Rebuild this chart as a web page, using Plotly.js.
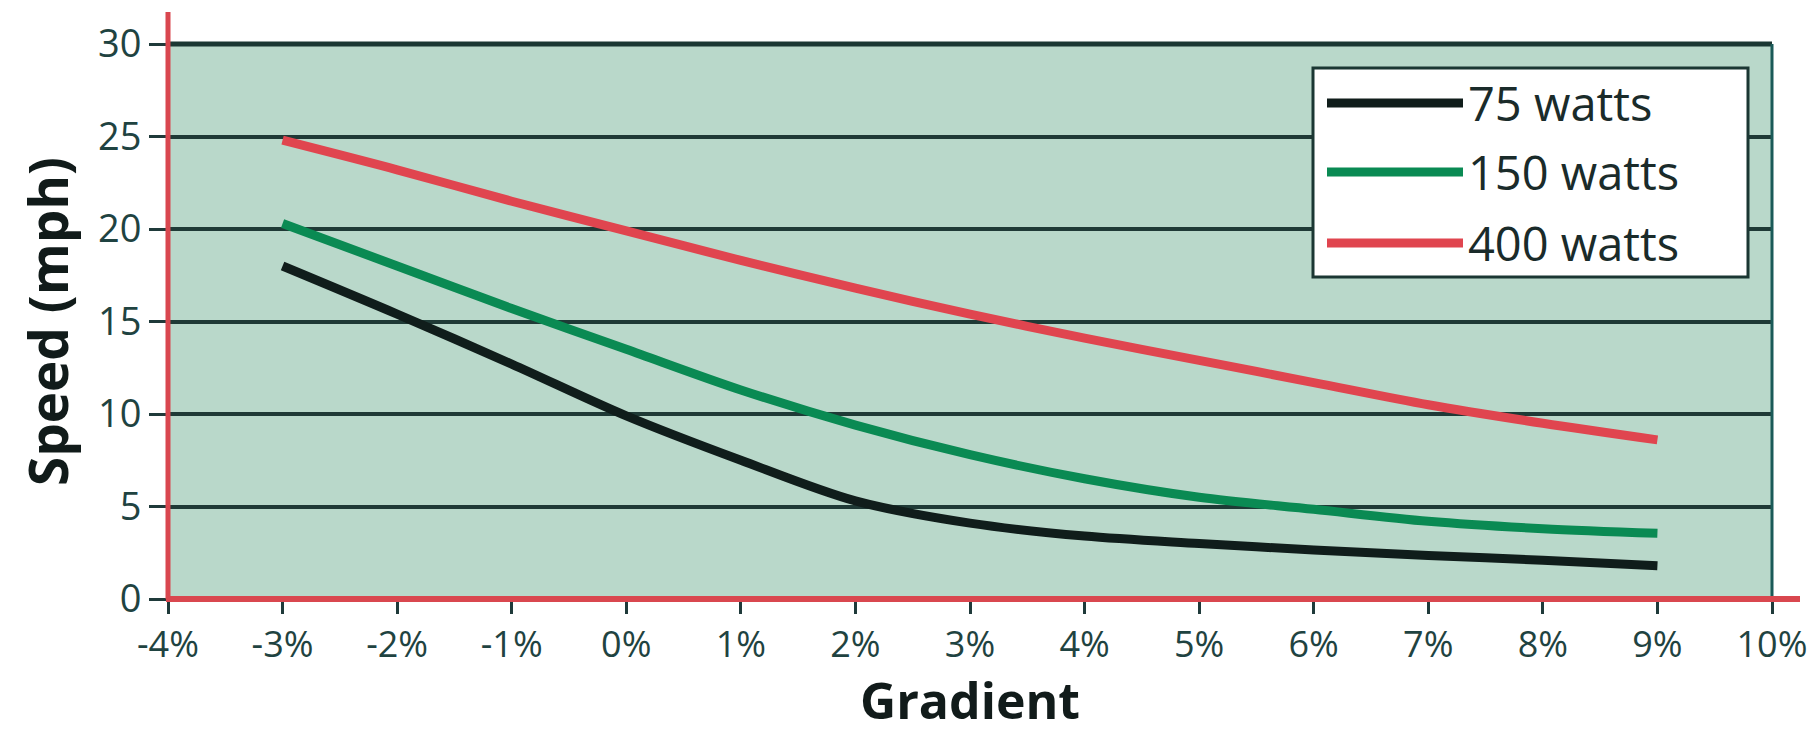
<!DOCTYPE html>
<html>
<head>
<meta charset="utf-8">
<script src="https://cdn.plot.ly/plotly-3.0.1.min.js"></script>
<style>
  html, body { margin: 0; padding: 0; background: #ffffff; }
  #chart { width: 1814px; height: 734px; }
</style>
</head>
<body>
<div id="chart"></div>
<script>
// ---- data ----
const gradient = [-3, -2, -1, 0, 1, 2, 3, 4, 5, 6, 7, 8, 9];
const speed75  = [18.0, 15.4, 12.7, 9.9, 7.5, 5.3, 4.1, 3.4, 3.0, 2.65, 2.35, 2.1, 1.8];
const speed150 = [20.3, 18.0, 15.7, 13.5, 11.3, 9.4, 7.8, 6.5, 5.5, 4.85, 4.2, 3.8, 3.55];
const speed400 = [24.8, 23.2, 21.5, 19.9, 18.3, 16.8, 15.4, 14.1, 12.9, 11.7, 10.5, 9.5, 8.6];
const seriesNames = ["75 watts", "150 watts", "400 watts"];
const xTickVals = [-4, -3, -2, -1, 0, 1, 2, 3, 4, 5, 6, 7, 8, 9, 10];
const xTickText = ["-4%", "-3%", "-2%", "-1%", "0%", "1%", "2%", "3%", "4%", "5%", "6%", "7%", "8%", "9%", "10%"];
const yTickVals = [0, 5, 10, 15, 20, 25, 30];

// ---- styling ----
const colors = ["#101d1b", "#0a8a53", "#e0454f"];
const W = 1814, H = 734;
const M = { l: 168, r: 42, t: 44, b: 135 };
const PW = W - M.l - M.r, PH = H - M.t - M.b;
const px = (x) => (x - M.l) / PW;          // pixel -> paper x
const py = (y) => (H - M.b - y) / PH;      // pixel -> paper y
const FONT = "Open Sans, Noto Sans, sans-serif";
const TEXT = "#1f4341";
const GRID = "#1f3a36";
const AXISRED = "#d9474f";

const seriesY = [speed75, speed150, speed400];
const traces = seriesY.map((ys, i) => ({
  x: gradient, y: ys, name: seriesNames[i], type: "scatter", mode: "lines",
  line: { color: colors[i], width: 9, shape: "spline", smoothing: 0.9 },
  showlegend: false, hoverinfo: "x+y+name"
}));

// custom legend (long line samples like the reference)
const legRows = [103, 172, 243];
const shapes = [
  // top border (dark, like the reference)
  { type: "line", xref: "paper", yref: "paper", x0: 0, x1: 1, y0: 1, y1: 1,
    line: { color: "#1b3733", width: 5 } },
  // right border
  { type: "line", xref: "paper", yref: "paper", x0: 1, x1: 1, y0: 0, y1: 1,
    line: { color: "#1a5a58", width: 3 } },
  // red axes extending beyond plot area
  { type: "line", xref: "paper", yref: "paper", x0: 0, x1: 0, y0: 0, y1: py(12),
    line: { color: AXISRED, width: 5 } },
  { type: "line", xref: "paper", yref: "paper", x0: px(166), x1: px(1800), y0: 0, y1: 0,
    line: { color: AXISRED, width: 6 } },
  // legend box
  { type: "rect", xref: "paper", yref: "paper", x0: px(1313), x1: px(1748), y0: py(277), y1: py(68),
    fillcolor: "#ffffff", line: { color: "#1b3733", width: 3 }, layer: "above" }
];
const annotations = [];
seriesNames.forEach((name, i) => {
  shapes.push({ type: "line", xref: "paper", yref: "paper", x0: px(1327), x1: px(1463),
    y0: py(legRows[i]), y1: py(legRows[i]), line: { color: colors[i], width: 9 }, layer: "above" });
  annotations.push({ xref: "paper", yref: "paper", x: px(1466), y: py(legRows[i]),
    xanchor: "left", yanchor: "middle", showarrow: false, text: name,
    font: { family: FONT, size: 47, color: "#1a2b2a" } });
});

const layout = {
  width: W, height: H,
  margin: M,
  paper_bgcolor: "#ffffff",
  plot_bgcolor: "#b9d8ca",
  showlegend: false,
  xaxis: {
    range: [-4, 10], tickvals: xTickVals, ticktext: xTickText,
    showgrid: false, zeroline: false, showline: false,
    ticks: "outside", ticklen: 14, tickwidth: 3, tickcolor: "#1f3a3a",
    tickfont: { family: FONT, size: 36, color: TEXT },
    title: { text: "Gradient", font: { family: FONT, size: 50, color: "#111b1a", weight: "bold" }, standoff: 44 }
  },
  yaxis: {
    range: [0, 30], tickvals: yTickVals,
    showgrid: true, gridcolor: GRID, gridwidth: 4,
    zeroline: false, showline: false,
    ticks: "outside", ticklen: 18, tickwidth: 3, tickcolor: "#1f3a3a",
    tickfont: { family: FONT, size: 38, color: TEXT },
    title: { text: "Speed (mph)", font: { family: FONT, size: 53, color: "#111b1a", weight: "bold" }, standoff: 12 }
  },
  shapes: shapes,
  annotations: annotations
};

Plotly.newPlot("chart", traces, layout, { displayModeBar: false, staticPlot: true });
</script>
</body>
</html>
